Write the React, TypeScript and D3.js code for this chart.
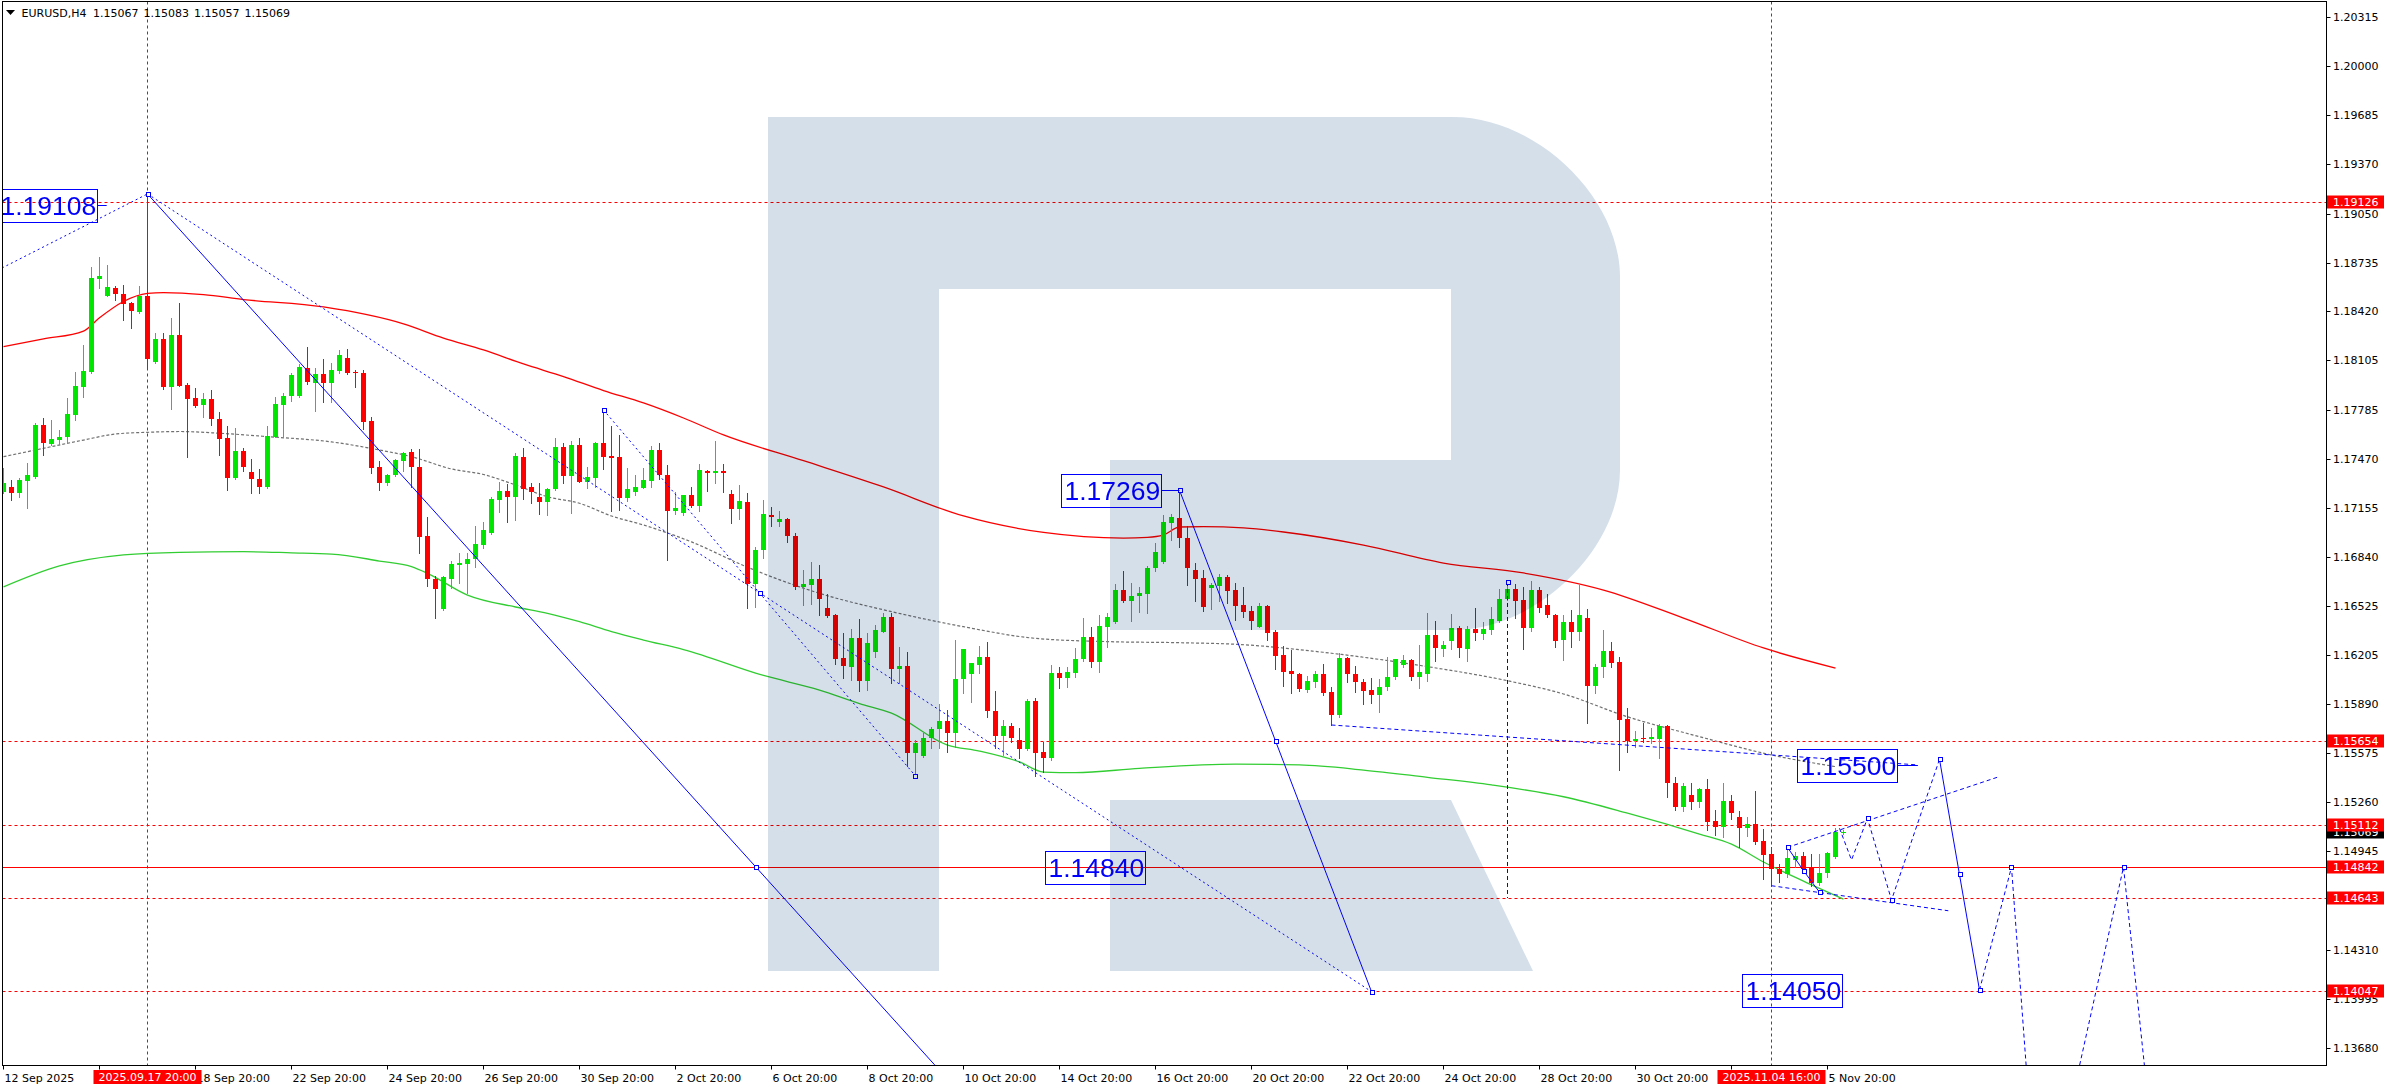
import React from 'react';
import * as d3 from 'd3';

// ---------------- DATA ----------------
const symbol = 'EURUSD,H4';

// H4 bars from 12 Sep 2025 20:00 (index 0) to 6 Nov 2025 04:00 (index 230)
const opens = [
  1.17257,1.17290,1.17251,1.17329,1.17354,1.17689,1.17566,1.17592,1.17612,1.17754,
  1.17934,1.18030,1.18629,1.18519,1.18571,1.18532,1.18475,1.18417,1.18519,1.18095,
  1.18243,1.17934,1.18269,1.17947,1.17863,1.17818,1.17856,1.17728,1.17605,1.17347,
  1.17522,1.17386,1.17341,1.17290,1.17612,1.17818,1.17876,1.17876,1.18056,1.17960,
  1.18017,1.17960,1.18037,1.18121,1.18030,1.18024,1.17715,1.17419,1.17316,1.17367,
  1.17457,1.17515,1.17419,1.16974,1.16697,1.16504,1.16697,1.16788,1.16794,1.16826,
  1.16916,1.16994,1.17206,1.17264,1.17225,1.17483,1.17290,1.17225,1.17193,1.17277,
  1.17547,1.17360,1.17560,1.17322,1.17347,1.17573,1.17490,1.17483,1.17219,1.17258,
  1.17283,1.17329,1.17528,1.17367,1.17135,1.17122,1.17238,1.17167,1.17393,1.17380,
  1.17393,1.17245,1.17148,1.17193,1.16665,1.16884,1.17110,1.17064,1.17084,1.16974,
  1.16646,1.16659,1.16697,1.16511,1.16466,1.16188,1.16130,1.16317,1.16040,1.16227,
  1.16356,1.16453,1.16118,1.16137,1.15577,1.15558,1.15673,1.15731,1.15783,1.15705,
  1.16053,1.16085,1.16143,1.16195,1.15847,1.15686,1.15750,1.15660,1.15602,1.15911,
  1.15583,1.15545,1.16092,1.16060,1.16092,1.16182,1.16324,1.16163,1.16388,1.16420,
  1.16626,1.16553,1.16588,1.16601,1.16768,1.16807,1.17058,1.17090,1.16961,1.16755,
  1.16704,1.16640,1.16652,1.16710,1.16626,1.16530,1.16491,1.16388,1.16524,1.16356,
  1.16208,1.16105,1.16085,1.15982,1.16034,1.16085,1.15969,1.15821,1.16188,1.16085,
  1.16034,1.15982,1.15950,1.16002,1.16066,1.16143,1.16176,1.16066,1.16085,1.16337,
  1.16246,1.16298,1.16382,1.16246,1.16375,1.16343,1.16369,1.16427,1.16569,1.16633,
  1.16562,1.16382,1.16626,1.16530,1.16466,1.16304,1.16420,1.16356,1.16446,1.16008,
  1.16130,1.16234,1.16163,1.15796,1.15654,1.15673,1.15667,1.15667,1.15750,1.15384,
  1.15229,1.15306,1.15261,1.15345,1.15139,1.15100,1.15268,1.15165,1.15094,1.15120,
  1.15010,1.14927,1.14830,1.14798,1.14888,1.14914,1.14836,1.14740,1.14804,1.14907,
  1.15067,
];
const highs = [
  1.17412,1.17335,1.17347,1.17445,1.17702,1.17734,1.17721,1.17657,1.17862,1.18030,
  1.18204,1.18707,1.18771,1.18720,1.18584,1.18591,1.18481,1.18584,1.19177,1.18282,
  1.18282,1.18378,1.18475,1.17960,1.17927,1.17895,1.17914,1.17773,1.17682,1.17670,
  1.17541,1.17470,1.17406,1.17682,1.17869,1.17895,1.18024,1.18082,1.18191,1.18056,
  1.18114,1.18088,1.18172,1.18178,1.18043,1.18043,1.17741,1.17457,1.17375,1.17470,
  1.17515,1.17535,1.17535,1.17096,1.16717,1.16717,1.16813,1.16865,1.16865,1.17039,
  1.17064,1.17225,1.17322,1.17309,1.17509,1.17541,1.17316,1.17316,1.17283,1.17605,
  1.17573,1.17586,1.17605,1.17419,1.17580,1.17786,1.17682,1.17625,1.17412,1.17367,
  1.17412,1.17554,1.17573,1.17432,1.17258,1.17238,1.17290,1.17438,1.17399,1.17586,
  1.17438,1.17270,1.17303,1.17251,1.16903,1.17206,1.17161,1.17135,1.17090,1.16994,
  1.16755,1.16807,1.16788,1.16601,1.16472,1.16350,1.16376,1.16440,1.16350,1.16401,
  1.16478,1.16478,1.16259,1.16227,1.15660,1.15705,1.15744,1.15892,1.15854,1.16304,
  1.16246,1.16156,1.16266,1.16291,1.15976,1.15789,1.15770,1.15738,1.15924,1.15931,
  1.15647,1.16143,1.16130,1.16130,1.16253,1.16446,1.16388,1.16466,1.16478,1.16665,
  1.16749,1.16672,1.16646,1.16781,1.16929,1.17109,1.17116,1.17269,1.17039,1.16801,
  1.16755,1.16672,1.16730,1.16723,1.16672,1.16646,1.16524,1.16543,1.16530,1.16369,
  1.16266,1.16240,1.16092,1.16072,1.16105,1.16150,1.16002,1.16221,1.16195,1.16137,
  1.16053,1.16060,1.16053,1.16195,1.16182,1.16208,1.16182,1.16272,1.16478,1.16427,
  1.16298,1.16472,1.16395,1.16395,1.16511,1.16420,1.16517,1.16633,1.16678,1.16665,
  1.16646,1.16685,1.16646,1.16601,1.16472,1.16466,1.16498,1.16659,1.16504,1.16150,
  1.16369,1.16291,1.16195,1.15867,1.15718,1.15770,1.15738,1.15763,1.15757,1.15422,
  1.15384,1.15384,1.15352,1.15409,1.15210,1.15384,1.15306,1.15203,1.15165,1.15332,
  1.15087,1.14971,1.14862,1.14971,1.14939,1.14939,1.14926,1.14926,1.14939,1.15094,
  1.15083,
];
const lows = [
  1.17251,1.17206,1.17225,1.17154,1.17347,1.17496,1.17560,1.17566,1.17573,1.17721,
  1.17869,1.18024,1.18571,1.18519,1.18494,1.18365,1.18313,1.18410,1.18063,1.18088,
  1.17920,1.17792,1.17940,1.17483,1.17805,1.17741,1.17689,1.17496,1.17270,1.17341,
  1.17393,1.17251,1.17251,1.17283,1.17612,1.17612,1.17843,1.17869,1.17953,1.17779,
  1.17837,1.17837,1.18024,1.18017,1.17934,1.17663,1.17380,1.17270,1.17303,1.17360,
  1.17393,1.17290,1.16865,1.16652,1.16446,1.16498,1.16640,1.16672,1.16607,1.16775,
  1.16897,1.16987,1.17129,1.17064,1.17077,1.17212,1.17187,1.17116,1.17110,1.17270,
  1.17316,1.17122,1.17322,1.17283,1.17290,1.17406,1.17135,1.17142,1.17200,1.17238,
  1.17283,1.17290,1.17341,1.16820,1.17116,1.17110,1.17161,1.17135,1.17264,1.17316,
  1.17258,1.17058,1.17084,1.16511,1.16517,1.16833,1.17039,1.17039,1.16936,1.16633,
  1.16530,1.16536,1.16466,1.16453,1.16150,1.16059,1.16047,1.15976,1.15982,1.16195,
  1.16356,1.16027,1.16027,1.15493,1.15429,1.15551,1.15609,1.15609,1.15583,1.15615,
  1.15963,1.15905,1.16092,1.15808,1.15609,1.15564,1.15647,1.15545,1.15596,1.15429,
  1.15455,1.15532,1.15995,1.16002,1.16066,1.16169,1.16130,1.16098,1.16259,1.16414,
  1.16550,1.16427,1.16485,1.16478,1.16749,1.16801,1.16948,1.16903,1.16659,1.16556,
  1.16491,1.16504,1.16556,1.16543,1.16433,1.16453,1.16375,1.16388,1.16304,1.16118,
  1.16008,1.15963,1.15976,1.15970,1.16002,1.15950,1.15757,1.15808,1.16034,1.15969,
  1.15892,1.15899,1.15841,1.15982,1.16053,1.16130,1.16047,1.15995,1.16040,1.16169,
  1.16201,1.16246,1.16195,1.16169,1.16304,1.16311,1.16343,1.16420,1.16562,1.16446,
  1.16246,1.16362,1.16485,1.16453,1.16259,1.16176,1.16259,1.16304,1.15770,1.15963,
  1.16066,1.16130,1.15467,1.15583,1.15615,1.15647,1.15641,1.15545,1.15293,1.15210,
  1.15203,1.15216,1.15229,1.15081,1.15049,1.15036,1.15152,1.14971,1.15042,1.14990,
  1.14765,1.14720,1.14746,1.14778,1.14843,1.14804,1.14720,1.14727,1.14778,1.14900,
  1.15057,
];
const closes = [
  1.17316,1.17251,1.17335,1.17367,1.17689,1.17573,1.17599,1.17612,1.17760,1.17940,
  1.18037,1.18635,1.18648,1.18578,1.18532,1.18468,1.18423,1.18519,1.18114,1.18243,
  1.17934,1.18269,1.17942,1.17856,1.17811,1.17856,1.17728,1.17599,1.17347,1.17522,
  1.17419,1.17341,1.17290,1.17618,1.17824,1.17876,1.18011,1.18063,1.17966,1.18017,
  1.17960,1.18043,1.18140,1.18024,1.18024,1.17708,1.17412,1.17316,1.17365,1.17464,
  1.17510,1.17419,1.16968,1.16697,1.16633,1.16710,1.16794,1.16801,1.16826,1.16922,
  1.17013,1.17212,1.17264,1.17225,1.17490,1.17277,1.17258,1.17193,1.17277,1.17547,
  1.17360,1.17560,1.17325,1.17354,1.17573,1.17483,1.17477,1.17219,1.17277,1.17290,
  1.17335,1.17528,1.17367,1.17135,1.17154,1.17238,1.17167,1.17399,1.17380,1.17393,
  1.17380,1.17148,1.17200,1.16665,1.16884,1.17116,1.17096,1.17084,1.16974,1.16646,
  1.16665,1.16697,1.16569,1.16460,1.16182,1.16137,1.16317,1.16040,1.16285,1.16369,
  1.16453,1.16118,1.16137,1.15577,1.15641,1.15673,1.15731,1.15783,1.15705,1.16053,
  1.16246,1.16156,1.16195,1.15847,1.15686,1.15750,1.15673,1.15602,1.15911,1.15577,
  1.15545,1.16092,1.16060,1.16098,1.16182,1.16324,1.16163,1.16395,1.16453,1.16626,
  1.16553,1.16588,1.16607,1.16768,1.16871,1.17064,1.17096,1.16961,1.16768,1.16697,
  1.16517,1.16659,1.16710,1.16620,1.16524,1.16485,1.16427,1.16524,1.16350,1.16201,
  1.16098,1.16085,1.15989,1.16040,1.16085,1.15963,1.15821,1.16188,1.16085,1.16034,
  1.15976,1.15950,1.16002,1.16066,1.16182,1.16176,1.16066,1.16098,1.16337,1.16253,
  1.16272,1.16382,1.16253,1.16375,1.16350,1.16375,1.16440,1.16569,1.16633,1.16556,
  1.16382,1.16626,1.16511,1.16466,1.16298,1.16420,1.16356,1.16466,1.16008,1.16130,
  1.16234,1.16156,1.15789,1.15654,1.15667,1.15667,1.15680,1.15750,1.15384,1.15229,
  1.15364,1.15261,1.15345,1.15132,1.15100,1.15268,1.15190,1.15094,1.15120,1.15003,
  1.14920,1.14830,1.14798,1.14901,1.14914,1.14830,1.14740,1.14804,1.14933,1.15068,
  1.15069,
];

// moving averages, read at sampled bars
const redMaBars = [0,5,10,12,15,18,20,25,30,40,50,55,60,65,70,75,80,85,90,100,110,120,130,140,143,145,147,150,155,160,170,180,190,200,210,220,229];
const redMaValues = [1.18193,1.18243,1.18294,1.18379,1.18484,1.18536,1.18542,1.18529,1.18497,1.18449,1.18340,1.18249,1.18172,1.18082,1.18001,1.17911,1.17831,1.17734,1.17625,1.17459,1.17290,1.17103,1.16997,1.16961,1.16965,1.16981,1.17032,1.17035,1.17026,1.17000,1.16916,1.16800,1.16736,1.16626,1.16446,1.16253,1.16124];
const greenMaBars = [0,7,15,22,30,36,41,47,51,53,58,64,68,72,76,80,85,95,102,107,111,118,122,127,130,134,142,154,162,170,178,186,195,203,212,216,220,225,230];
const greenMaValues = [1.16646,1.16781,1.16852,1.16869,1.16873,1.16866,1.16858,1.16813,1.16777,1.16734,1.16594,1.16517,1.16476,1.16422,1.16358,1.16304,1.16243,1.16076,1.15982,1.15895,1.15834,1.15628,1.15589,1.15519,1.15454,1.15450,1.15478,1.15505,1.15500,1.15467,1.15420,1.15371,1.15295,1.15189,1.15055,1.14990,1.14875,1.14752,1.14636];
const grayMaBars = [0,4,10,14,18,22,27,33,41,47,51,56,60,64,68,72,76,80,86,93,102,111,120,129,138,147,154,166,178,188,195,203,212,221,229];
const grayMaValues = [1.17485,1.17528,1.17592,1.17631,1.17642,1.17647,1.17636,1.17614,1.17580,1.17528,1.17485,1.17406,1.17370,1.17303,1.17227,1.17185,1.17103,1.17045,1.16936,1.16773,1.16605,1.16487,1.16390,1.16315,1.16294,1.16287,1.16277,1.16219,1.16133,1.16042,1.15957,1.15810,1.15682,1.15564,1.15489];

// horizontal levels
const levelPrices = [1.19126, 1.15654, 1.15112, 1.14842, 1.14643, 1.14047];
const levelSolid = [false, false, false, true, false, false];

// vertical markers (bar index) and their labels
const markerBars = [18, 221];
const markerLabels = ['2025.09.17 20:00', '2025.11.04 16:00'];

// time axis
const timeTickBars = [0,12,24,36,48,60,72,84,96,108,120,132,144,156,168,180,192,204,216,228];
const timeTickLabels = ['12 Sep 2025','16 Sep 20:00','18 Sep 20:00','22 Sep 20:00','24 Sep 20:00','26 Sep 20:00','30 Sep 20:00','2 Oct 20:00','6 Oct 20:00','8 Oct 20:00','10 Oct 20:00','14 Oct 20:00','16 Oct 20:00','20 Oct 20:00','22 Oct 20:00','24 Oct 20:00','28 Oct 20:00','30 Oct 20:00','3 Nov 20:00','5 Nov 20:00'];

// price axis
const priceTickLabels = ['1.20315','1.20000','1.19685','1.19370','1.19050','1.18735','1.18420','1.18105','1.17785','1.17470','1.17155','1.16840','1.16525','1.16205','1.15890','1.15575','1.15260','1.14945','1.14630','1.14310','1.13995','1.13680'];

// analyst drawings: [bar index, price]
const solidLines = [
  [[18, 1.19177], [116.4, 1.13568]],
  [[147, 1.17269], [171, 1.14040]],
  [[223, 1.14969], [225, 1.14819], [227, 1.14680]],
  [[242, 1.15536], [247, 1.14050]],
];
const dottedLines = [
  [[-0.19, 1.18700], [18, 1.19177]],
  [[18, 1.19177], [171, 1.14040]],
  [[75, 1.17786], [114, 1.15429]],
];
const dashedLines = [
  [[166, 1.15757], [239.3, 1.15500]],
  [[188, 1.16678], [188, 1.14643]],
  [[223, 1.14969], [249.2, 1.15420]],
  [[221, 1.14722], [243.1, 1.14561]],
  [[229.5, 1.15092], [231, 1.14888], [233, 1.15156], [236, 1.14630], [242, 1.15536]],
  [[247, 1.14050], [251, 1.14842], [254.5, 1.12400], [265, 1.14842], [270, 1.12400]],
];
const anchorPoints = [
  [18, 1.19177], [94.06, 1.14842], [75, 1.17786], [94.5, 1.16608], [114, 1.15429],
  [171, 1.14040], [147, 1.17269], [159, 1.15654], [188, 1.16678],
  [223, 1.14969], [225, 1.14819], [227, 1.14680], [233, 1.15156], [236, 1.14630],
  [242, 1.15536], [244.5, 1.14798], [247, 1.14050], [251, 1.14842], [265, 1.14842],
];
const priceTags = [
  { text: '1.19108', bar: -0.81, price: 1.19108, linkBar: 12.9 },
  { text: '1.17269', bar: 132.2, price: 1.17269, linkBar: 147 },
  { text: '1.15500', bar: 224.2, price: 1.15500, linkBar: 239.3 },
  { text: '1.14050', bar: 217.3, price: 1.14050, linkBar: null },
  { text: '1.14840', bar: 130.2, price: 1.14840, linkBar: null },
];

// ---------------- STYLE ----------------
const GREEN = '#00e600';
const RED = '#ff0000';
const BLUE = '#0000ff';
const AXFONT = 'DejaVu Sans, Verdana, sans-serif';
const TAGFONT = 'Liberation Sans, Arial, sans-serif';
const PL = 2.5, PT = 1.5, PR = 2326.5, PB = 1065.5;

export default function App() {
  React.useEffect(() => {
    document.body.style.margin = '0';
    document.body.style.overflow = 'hidden';
  }, []);

  const x = d3.scaleLinear().domain([0, 100]).range([3.5, 803.5]);
  const y = d3.scaleLinear().domain([1.135676, 1.204258]).range([1065, 0]);
  const ry = (p) => Math.round(y(p));

  const maLine = (bars, vals) =>
    d3.line().x((d) => x(d[0])).y((d) => y(d[1])).curve(d3.curveMonotoneX)(bars.map((b, i) => [b, vals[i]]));
  const pathOf = (pts) => d3.line().x((d) => x(d[0])).y((d) => y(d[1]))(pts);

  const lastClose = closes[closes.length - 1];
  const lastIdx = opens.length - 1;
  const headerVals = [opens[lastIdx], highs[lastIdx], lows[lastIdx], closes[lastIdx]].map((v) => v.toFixed(5));

  const rightLabel = (p, fill, key) => {
    const cy = ry(p);
    return (
      <g key={key}>
        <rect x={2327} y={cy - 6.5} width={57} height={13} fill={fill} />
        <text x={2333} y={cy + 4} fontFamily={AXFONT} fontSize={11} fill="#fff">{p.toFixed(5)}</text>
      </g>
    );
  };

  return (
    <svg width={2390} height={1090} style={{ position: 'absolute', left: 0, top: 0 }} xmlns="http://www.w3.org/2000/svg">
      <defs>
        <clipPath id="plot">
          <rect x={3} y={2} width={2323} height={1063} />
        </clipPath>
      </defs>
      <rect x={0} y={0} width={2390} height={1090} fill="#fff" />

      <g clipPath="url(#plot)">
        {/* horizontal levels */}
        {levelPrices.map((p, i) => (
          <line key={'lv' + i} x1={PL} x2={PR} y1={ry(p) + 0.5} y2={ry(p) + 0.5} stroke={RED} strokeWidth={1}
            strokeDasharray={levelSolid[i] ? undefined : '3,3'} />
        ))}
        {/* vertical markers */}
        {markerBars.map((b, i) => (
          <line key={'vm' + i} x1={x(b)} x2={x(b)} y1={PT} y2={PB} stroke={RED} strokeWidth={1} strokeDasharray="3,3" />
        ))}

        {/* moving averages */}
        <path d={maLine(greenMaBars, greenMaValues)} fill="none" stroke="#32cd32" strokeWidth={1.3} />
        <path d={maLine(redMaBars, redMaValues)} fill="none" stroke={RED} strokeWidth={1.3} />
        <path d={maLine(grayMaBars, grayMaValues)} fill="none" stroke="#707070" strokeWidth={1.2} strokeDasharray="3,2" />

        {/* candles */}
        {opens.map((o, i) => {
          const c = closes[i];
          const up = c >= o;
          const col = up ? GREEN : RED;
          const cx = x(i);
          const top = ry(Math.max(o, c));
          const bot = ry(Math.min(o, c));
          return (
            <g key={'c' + i}>
              <line x1={cx} x2={cx} y1={ry(highs[i])} y2={ry(lows[i]) + 1} stroke={col} strokeWidth={1} />
              <rect x={cx - 2.5} y={top} width={5} height={Math.max(1, bot - top)} fill={col} />
            </g>
          );
        })}

        {/* analyst drawings */}
        {dottedLines.map((pts, i) => (
          <path key={'dt' + i} d={pathOf(pts)} fill="none" stroke={BLUE} strokeWidth={1} strokeDasharray="2,3" />
        ))}
        {dashedLines.map((pts, i) => (
          <path key={'ds' + i} d={pathOf(pts)} fill="none" stroke={BLUE} strokeWidth={1} strokeDasharray="4,3" />
        ))}
        {solidLines.map((pts, i) => (
          <path key={'sl' + i} d={pathOf(pts)} fill="none" stroke={BLUE} strokeWidth={1} />
        ))}
        {anchorPoints.map((p, i) => {
          const cx = Math.round(x(p[0])) + 0.5;
          const cy = ry(p[1]) + 0.5;
          return <rect key={'ap' + i} x={cx - 2} y={cy - 2} width={4} height={4} fill="#fff" stroke={BLUE} strokeWidth={1} />;
        })}
        {priceTags.map((t, i) => {
          const lx = Math.round(x(t.bar)) + 0.5;
          const cy = ry(t.price);
          return (
            <g key={'pt' + i}>
              {t.linkBar !== null && (
                <line x1={lx + 100} x2={x(t.linkBar)} y1={cy + 0.5} y2={cy + 0.5} stroke={BLUE} strokeWidth={1} />
              )}
              <rect x={lx} y={cy - 16 + 0.5} width={100} height={33} fill="none" stroke={BLUE} strokeWidth={1} />
              <text x={lx + 3} y={cy + 9.5} fontFamily={TAGFONT} fontSize={26.5} fill={BLUE}>{t.text}</text>
            </g>
          );
        })}

        {/* watermark (multiplied over the chart) */}
        <g style={{ mixBlendMode: 'multiply' }} fill="#d5dfea">
          <path d="M768,117 H1453 C1536,117 1620,197 1620,277 V470 C1620,550 1536,630 1453,630 H1110 V460 H1451 V289 H939 V971 H768 Z" />
          <path d="M1110,800 H1451 L1533,971 H1110 Z" />
        </g>
      </g>

      {/* frame */}
      <rect x={PL} y={PT} width={PR - PL} height={PB - PT} fill="none" stroke="#000" strokeWidth={1} />

      {/* price axis */}
      {priceTickLabels.map((t, i) => {
        const cy = ry(+t);
        return (
          <g key={'py' + i}>
            <line x1={PR} x2={PR + 4} y1={cy + 0.5} y2={cy + 0.5} stroke="#000" />
            <text x={2333} y={cy + 4} fontFamily={AXFONT} fontSize={11} fill="#000">{t}</text>
          </g>
        );
      })}
      {rightLabel(lastClose, '#000', 'cur')}
      {levelPrices.map((p, i) => rightLabel(p, RED, 'rl' + i))}

      {/* time axis */}
      {timeTickBars.map((b, i) => (
        <g key={'tx' + i}>
          <line x1={x(b)} x2={x(b)} y1={PB} y2={PB + 4} stroke="#000" />
          <text x={x(b) + 1} y={1082} fontFamily={AXFONT} fontSize={11} fill="#000">{timeTickLabels[i]}</text>
        </g>
      ))}
      {markerBars.map((b, i) => (
        <g key={'ml' + i}>
          <rect x={x(b) - 54} y={1070} width={108} height={14} fill={RED} />
          <text x={x(b)} y={1081} textAnchor="middle" fontFamily={AXFONT} fontSize={11} fill="#fff">{markerLabels[i]}</text>
        </g>
      ))}

      {/* header */}
      <polygon points="6,10 15,10 10.5,15" fill="#000" />
      <text x={21.5} y={17} fontFamily={AXFONT} fontSize={11} fill="#000">{symbol}</text>
      {headerVals.map((v, i) => (
        <text key={'hv' + i} x={93 + i * 50.5} y={17} fontFamily={AXFONT} fontSize={11} fill="#000">{v}</text>
      ))}
    </svg>
  );
}
